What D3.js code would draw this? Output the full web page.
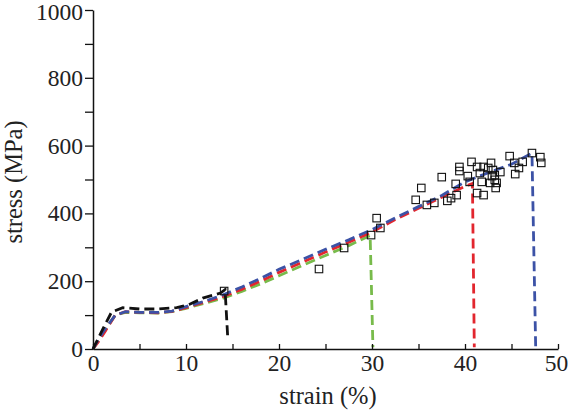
<!DOCTYPE html>
<html>
<head>
<meta charset="utf-8">
<script src="https://cdn.jsdelivr.net/npm/d3@7"></script>
<style>
  html, body { margin: 0; padding: 0; background: #fff; }
  svg { display: block; }
  text { font-family: "Liberation Serif", "DejaVu Serif", serif; fill: #222; }
</style>
</head>
<body>
<svg id="chart" width="568" height="412"></svg>
<script>
// ---- data ----
const blackStrain = [0, 1, 2, 3.2, 5, 7, 9, 10.4, 11.8, 13.7, 14.2, 14.5];
const blackStress = [0, 56, 109, 122, 118, 118, 122, 132, 150, 165, 175, 28];

const greenStrain = [0, 0.6, 1.3, 2.4, 3.5, 5, 7, 8.5, 10, 12, 14, 16, 18, 20, 22.5, 25, 27.5, 29.8, 30.1];
const greenStress = [0, 25, 55, 100, 108, 107, 106, 110, 120, 135, 150, 170, 192, 216, 246, 276, 305, 335, 5];

const redStrain = [0, 0.6, 1.3, 2.4, 3.5, 5, 7, 8.5, 10, 12, 14, 16, 18, 20, 22.5, 25, 27.5, 30, 32.5, 35, 37.5, 40, 40.8, 41.0];
const redStress = [0, 22, 52, 100, 110, 108, 107, 111, 122, 138, 155, 176, 200, 226, 256, 286, 315, 345, 382, 415, 448, 480, 488, 5];

const blueStrain = [0, 0.5, 1.2, 2.4, 3.5, 5, 7, 8.5, 10, 12, 14, 16, 18, 20, 22.5, 25, 27.5, 30, 32.5, 35, 37.5, 40, 42.5, 45, 47.2, 47.6];
const blueStress = [0, 25, 55, 100, 110, 108, 108, 112, 125, 141, 160, 183, 208, 235, 264, 294, 322, 352, 387, 420, 453, 493, 520, 545, 578, 5];

const expStrain = [14.1, 24.3, 27.0, 29.9, 30.5, 30.9, 35.3, 34.7, 35.9, 36.7, 37.5, 38.1, 38.5, 39.1, 39.0, 39.4, 39.4, 40.3, 40.5, 40.7,
  41.3, 41.3, 41.6, 41.8, 42.0, 42.0, 42.5, 42.8, 43.0, 42.7, 43.2, 43.4, 43.3, 43.8, 44.8, 45.3, 45.4, 45.8, 46.2, 47.2, 48.1, 48.2, 42.9, 43.2];
const expStress = [171, 236, 298, 336, 386, 357, 475, 440, 425, 431, 507, 437, 445, 454, 487, 537, 525, 510, 493, 552,
  460, 537, 519, 493, 454, 537, 534, 549, 528, 490, 499, 490, 475, 522, 569, 549, 516, 534, 552, 578, 566, 549, 510, 513];

const xTicks = [0, 5, 10, 15, 20, 25, 30, 35, 40, 45, 50];
const xTickLabels = ["0", "", "10", "", "20", "", "30", "", "40", "", "50"];
const yTicks = [0, 100, 200, 300, 400, 500, 600, 700, 800, 900, 1000];
const yTickLabels = ["0", "", "200", "", "400", "", "600", "", "800", "", "1000"];

const xTitle = "strain (%)";
const yTitle = "stress (MPa)";

// ---- chart ----
const svg = d3.select("#chart");
const x = d3.scaleLinear().domain([0, 50]).range([93, 558]);
const y = d3.scaleLinear().domain([0, 1000]).range([349, 10]);

const series = [
  { s: greenStrain, v: greenStress, color: "#78bb4b" },
  { s: redStrain, v: redStress, color: "#e2262e" },
  { s: blueStrain, v: blueStress, color: "#3c52a6" },
  { s: blackStrain, v: blackStress, color: "#111" }
];

const line = d3.line().x(d => x(d[0])).y(d => y(d[1]));

series.forEach(se => {
  const pts = se.s.map((s, i) => [s, se.v[i]]);
  svg.append("path")
    .attr("d", line(pts))
    .attr("fill", "none")
    .attr("stroke", se.color)
    .attr("stroke-width", 2.8)
    .attr("stroke-dasharray", "10,5");
});

// squares
const sq = 7.5;
svg.append("g").selectAll("rect")
  .data(expStrain.map((s, i) => [s, expStress[i]]))
  .join("rect")
  .attr("x", d => x(d[0]) - sq / 2)
  .attr("y", d => y(d[1]) - sq / 2)
  .attr("width", sq)
  .attr("height", sq)
  .attr("fill", "none")
  .attr("stroke", "#111")
  .attr("stroke-width", 1.1);

// axes
const yAxis = d3.axisLeft(y).tickValues(yTicks)
  .tickFormat((d, i) => yTickLabels[i])
  .tickSizeInner(8).tickSizeOuter(0).tickPadding(2);
const gy = svg.append("g").attr("transform", `translate(${x(0)},0)`).call(yAxis);

const xAxis = d3.axisBottom(x).tickValues(xTicks)
  .tickFormat((d, i) => xTickLabels[i])
  .tickSizeInner(-5).tickSizeOuter(0).tickPadding(5);
const gx = svg.append("g").attr("transform", `translate(0,${y(0)})`).call(xAxis);

[gx, gy].forEach(g => {
  g.select(".domain").attr("stroke", "#111").attr("stroke-width", 1.5);
  g.selectAll(".tick line").attr("stroke", "#111").attr("stroke-width", 1.3);
  g.selectAll(".tick text").attr("font-size", 23.5).attr("fill", "#222")
    .style("font-family", "'Liberation Serif', serif");
});
gy.selectAll(".tick text").filter(d => d === 1000).attr("dy", "0.42em");
gx.selectAll(".tick text").filter(d => d === 50).attr("dx", "-2");

svg.append("text")
  .attr("x", 328).attr("y", 404)
  .attr("text-anchor", "middle")
  .attr("font-size", 24.5)
  .text(xTitle);

svg.append("text")
  .attr("transform", "translate(22,182) rotate(-90)")
  .attr("text-anchor", "middle")
  .attr("font-size", 24.5)
  .text(yTitle);
</script>
</body>
</html>
